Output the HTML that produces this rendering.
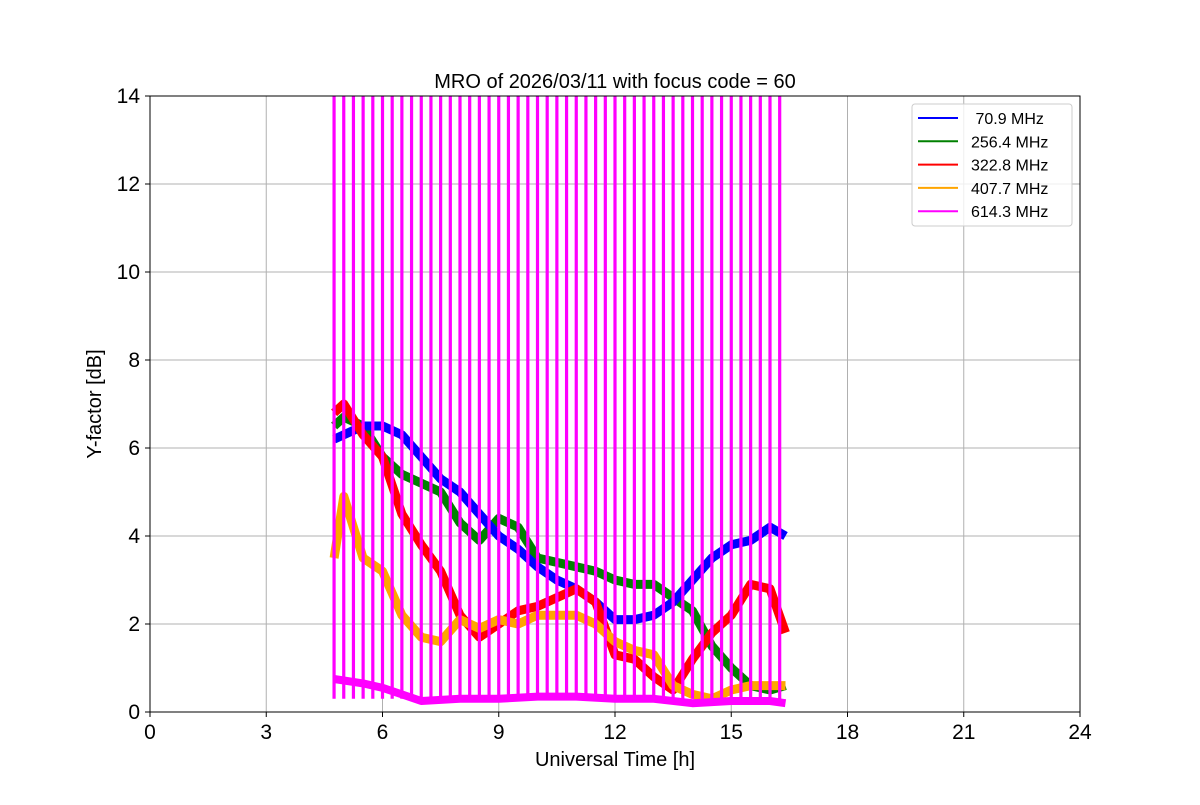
<!DOCTYPE html>
<html><head><meta charset="utf-8"><style>
body{margin:0;background:#fff}
svg text{font-family:"Liberation Sans","DejaVu Sans",sans-serif}
</style></head><body>
<svg id="chart" width="1200" height="800" viewBox="0 0 1200 800" xmlns="http://www.w3.org/2000/svg">
<rect width="1200" height="800" fill="#fff"/>
<g id="grid"></g>
<defs><clipPath id="clip"><rect x="150" y="96" width="930" height="616"/></clipPath></defs>
<g id="series" clip-path="url(#clip)"></g>
<rect x="150" y="96" width="930" height="616" fill="none" stroke="#000" stroke-width="1"/>
<g id="ticks"></g>
<text x="615" y="88" text-anchor="middle" font-size="20">MRO of 2026/03/11 with focus code = 60</text>
<text x="615" y="766" text-anchor="middle" font-size="20">Universal Time [h]</text>
<text x="101" y="404" text-anchor="middle" font-size="20" transform="rotate(-90 101 404)">Y-factor [dB]</text>
<g id="legend"></g>
</svg>
<script>
const xTicks=[0,3,6,9,12,15,18,21,24];
const yTicks=[0,2,4,6,8,10,12,14];
const seriesNames=[" 70.9 MHz","256.4 MHz","322.8 MHz","407.7 MHz","614.3 MHz"];
const seriesColors=["#0000ff","#008000","#ff0000","#ffa500","#ff00ff"];
const tBlue=[4.75,5,5.5,6,6.5,7,7.5,8,8.5,9,9.5,10,10.5,11,11.5,12,12.5,13,13.5,14,14.5,15,15.5,16,16.4];
const vBlue=[6.2,6.3,6.5,6.5,6.3,5.8,5.3,5.0,4.5,4.0,3.7,3.3,3.0,2.8,2.5,2.1,2.1,2.2,2.5,3.0,3.5,3.8,3.9,4.2,4.0];
const tGreen=[4.75,5,5.5,6,6.5,7,7.5,8,8.5,9,9.5,10,10.5,11,11.5,12,12.5,13,13.5,14,14.5,15,15.5,16,16.4];
const vGreen=[6.5,6.7,6.5,5.8,5.4,5.2,5.0,4.3,3.9,4.4,4.2,3.5,3.4,3.3,3.2,3.0,2.9,2.9,2.6,2.3,1.5,1.0,0.6,0.5,0.6];
const tRed=[4.75,5,5.5,6,6.5,7,7.5,8,8.5,9,9.5,10,10.5,11,11.5,12,12.5,13,13.5,14,14.5,15,15.5,16,16.4];
const vRed=[6.8,7.0,6.3,5.8,4.5,3.8,3.2,2.2,1.7,2.0,2.3,2.4,2.6,2.8,2.5,1.3,1.2,0.8,0.5,1.2,1.8,2.2,2.9,2.8,1.8];
const tOrange=[4.75,5,5.25,5.5,6,6.5,7,7.5,8,8.5,9,9.5,10,10.5,11,11.5,12,12.5,13,13.5,14,14.5,15,15.5,16,16.4];
const vOrange=[3.5,4.9,4.2,3.5,3.2,2.2,1.7,1.6,2.1,1.9,2.1,2.0,2.2,2.2,2.2,2.0,1.6,1.4,1.3,0.6,0.4,0.3,0.5,0.6,0.6,0.6];
const tMag=[4.75,5.5,6,6.5,7,8,9,10,11,12,13,14,15,16,16.4];
const vMag=[0.75,0.65,0.55,0.4,0.25,0.3,0.3,0.35,0.35,0.3,0.3,0.2,0.25,0.25,0.2];
const spikeTimes=[4.75,5,5.25,5.5,5.75,6,6.25,6.5,6.75,7,7.25,7.5,7.75,8,8.25,8.5,8.75,9,9.25,9.5,9.75,10,10.25,10.5,10.75,11,11.25,11.5,11.75,12,12.25,12.5,12.75,13,13.25,13.5,13.75,14,14.25,14.5,14.75,15,15.25,15.5,15.75,16,16.25];
const spikeTop=14.5;

const X=t=>150+t/24*930, Y=v=>712-v/14*616;
const NS="http://www.w3.org/2000/svg";
function mk(tag,attrs,parent){const e=document.createElementNS(NS,tag);for(const k in attrs)e.setAttribute(k,attrs[k]);parent.appendChild(e);return e;}
const grid=document.getElementById('grid'),ticks=document.getElementById('ticks'),ser=document.getElementById('series'),leg=document.getElementById('legend');
xTicks.forEach(t=>{
 const l=mk('line',{x1:X(t),x2:X(t),y1:96,y2:712,stroke:'#b0b0b0','stroke-width':1},grid);
 
 const k=mk('line',{x1:X(t),x2:X(t),y1:712,y2:717,stroke:'#000'},ticks);
 
 const tx=mk('text',{x:X(t),y:739,'text-anchor':'middle','font-size':21},ticks);tx.textContent=t;
 
});
yTicks.forEach(v=>{
 const l=mk('line',{x1:150,x2:1080,y1:Y(v),y2:Y(v),stroke:'#b0b0b0','stroke-width':1},grid);
 
 const k=mk('line',{x1:145,x2:150,y1:Y(v),y2:Y(v),stroke:'#000'},ticks);
 
 const tx=mk('text',{x:140,y:Y(v)+7,'text-anchor':'end','font-size':21},ticks);tx.textContent=v;
 
});
function line(ts,vs,color,w,name){
 const d=ts.map((t,i)=>(i?'L':'M')+X(t).toFixed(1)+' '+Y(vs[i]).toFixed(1)).join(' ');
 const p=mk('path',{d:d,fill:'none',stroke:color,'stroke-width':w,'stroke-linejoin':'round'},ser);
 
}
line(tGreen,vGreen,seriesColors[1],9,'series-256-4-mhz');
line(tBlue,vBlue,seriesColors[0],9,'series-70-9-mhz');
line(tRed,vRed,seriesColors[2],9,'series-322-8-mhz');
line(tOrange,vOrange,seriesColors[3],9,'series-407-7-mhz');
line(tMag,vMag,seriesColors[4],8,'series-614-3-mhz');
spikeTimes.forEach(t=>{
 const l=mk('line',{x1:X(t),x2:X(t),y1:Y(0.3),y2:Y(spikeTop),stroke:seriesColors[4],'stroke-width':3.2},ser);
 
});
const lb=mk('rect',{x:912,y:104,width:160,height:122,rx:3,fill:'#fff','fill-opacity':0.8,stroke:'#ccc'},leg);

seriesNames.forEach((n,i)=>{
 const y=118+i*23.3;
 const l=mk('line',{x1:918,x2:958,y1:y,y2:y,stroke:seriesColors[i],'stroke-width':2},leg);
 
 const tx=mk('text',{x:971,y:y+6,'font-size':16,style:'white-space:pre'},leg);tx.textContent=n;
 
});
</script>
</body></html>
